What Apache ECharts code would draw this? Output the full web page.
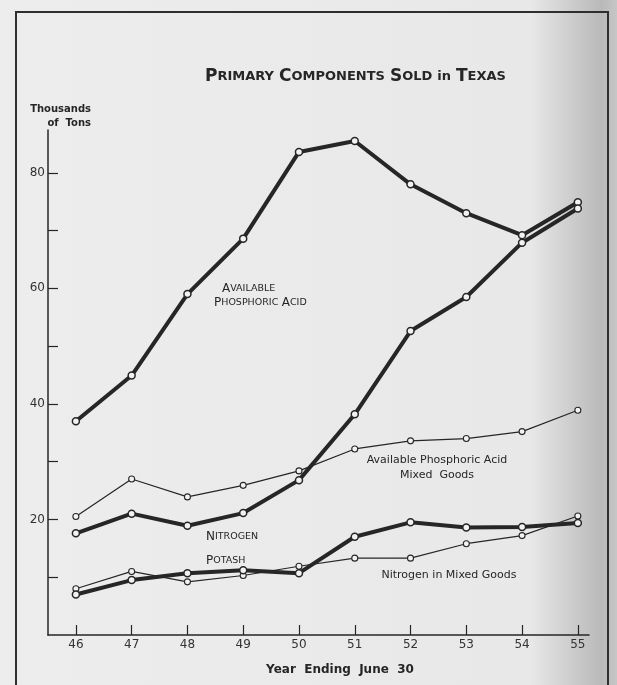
<!DOCTYPE html>
<html>
<head>
<meta charset="utf-8">
<title>Primary Components Sold in Texas</title>
<script src="https://cdn.jsdelivr.net/npm/echarts@6/dist/echarts.min.js"></script>
<style>
  html, body { margin:0; padding:0; }
  #chart { width:617px; height:685px; }
</style>
</head>
<body>
<div id="chart"></div>
<script>
// year ending June 30 (19xx)
const years = [46, 47, 48, 49, 50, 51, 52, 53, 54, 55];
// thousands of tons
const phosphoricAcid = [37.0, 44.9, 59.0, 68.6, 83.6, 85.5, 78.0, 73.0, 69.2, 74.9];
const nitrogen = [17.6, 21.0, 18.9, 21.1, 26.8, 38.2, 52.6, 58.5, 67.9, 73.8];
const potash = [7.0, 9.5, 10.7, 11.2, 10.7, 17.0, 19.5, 18.6, 18.7, 19.4];
const phosphoricMixed = [20.5, 27.0, 23.9, 25.9, 28.4, 32.2, 33.6, 34.0, 35.2, 38.9];
const nitrogenMixed = [8.0, 11.0, 9.2, 10.3, 11.9, 13.3, 13.3, 15.8, 17.2, 20.6];
const yTicks = [10, 20, 30, 40, 50, 60, 70, 80];
const yLabels = [20, 40, 60, 80];

const ink = '#262626';
const font = 'DejaVu Sans';

const chart = echarts.init(document.getElementById('chart'), null, { renderer: 'canvas' });

function pairs(values) {
  return years.map((y, i) => [y, values[i]]);
}

function line(name, values, heavy) {
  return {
    name: name,
    type: 'line',
    data: pairs(values),
    symbol: 'circle',
    symbolSize: heavy ? 7 : 6,
    z: heavy ? 3 : 2,
    lineStyle: { color: ink, width: heavy ? 4 : 1.2 },
    itemStyle: { color: '#f2f2f2', borderColor: ink, borderWidth: heavy ? 1.5 : 1.1 },
    emphasis: { disabled: true },
    animation: false
  };
}

// small caps lettering
const rich = (big, small) => ({
  b: { fontFamily: font, fontSize: big, color: ink },
  s: { fontFamily: font, fontSize: small, color: ink }
});

function label(x, y, text, style) {
  return {
    type: 'text',
    x: x,
    y: y,
    style: Object.assign({ text: text, fill: ink, font: '11px "' + font + '"', textVerticalAlign: 'middle' }, style || {})
  };
}

const option = {
  backgroundColor: new echarts.graphic.LinearGradient(0, 0, 1, 0, [
    { offset: 0, color: '#ededed' },
    { offset: 0.86, color: '#e8e8e8' },
    { offset: 0.975, color: '#b9b9b9' },
    { offset: 1, color: '#c6c6c6' }
  ]),
  title: {
    text: '{b|P}{s|RIMARY} {b|C}{s|OMPONENTS} {b|S}{s|OLD} {s|in} {b|T}{s|EXAS}',
    left: 200,
    top: 63,
    textStyle: { rich: rich(17, 13) }
  },
  grid: { left: 48, right: 28, top: 130, bottom: 50 },
  xAxis: {
    type: 'value',
    min: 45.5,
    max: 55.2,
    axisLine: { lineStyle: { color: ink, width: 1.5 } },
    axisTick: { inside: true, length: 10, customValues: years, lineStyle: { color: ink, width: 1.2 } },
    axisLabel: { customValues: years, margin: 4, color: '#333', fontFamily: font, fontSize: 12 },
    splitLine: { show: false }
  },
  yAxis: {
    type: 'value',
    min: 0,
    max: 87.4,
    axisLine: { show: true, lineStyle: { color: ink, width: 1.5 } },
    axisTick: { show: true, inside: true, length: 10, customValues: yTicks, lineStyle: { color: ink, width: 1.2 } },
    axisLabel: { customValues: yLabels, margin: 3, color: '#333', fontFamily: font, fontSize: 12 },
    splitLine: { show: false }
  },
  series: [
    line('Available Phosphoric Acid Mixed Goods', phosphoricMixed, false),
    line('Nitrogen in Mixed Goods', nitrogenMixed, false),
    line('Available Phosphoric Acid', phosphoricAcid, true),
    line('Nitrogen', nitrogen, true),
    line('Potash', potash, true)
  ],
  graphic: [
    {
      type: 'rect',
      shape: { x: 16, y: 12, width: 592, height: 700 },
      style: { fill: null, stroke: '#2e2e2e', lineWidth: 2 },
      silent: true
    },
    label(91, 109, 'Thousands', { textAlign: 'right', font: 'bold 10px "' + font + '"' }),
    label(91, 123, 'of  Tons', { textAlign: 'right', font: 'bold 10px "' + font + '"' }),
    label(222, 289, '{b|A}{s|VAILABLE}', { rich: rich(12, 9.5) }),
    label(214, 303, '{b|P}{s|HOSPHORIC} {b|A}{s|CID}', { rich: rich(12, 9.5) }),
    label(206, 537, '{b|N}{s|ITROGEN}', { rich: rich(12, 9.5) }),
    label(206, 561, '{b|P}{s|OTASH}', { rich: rich(12, 9.5) }),
    label(437, 460, 'Available Phosphoric Acid', { textAlign: 'center', font: '11px "' + font + '"' }),
    label(437, 475, 'Mixed  Goods', { textAlign: 'center', font: '11px "' + font + '"' }),
    label(449, 575, 'Nitrogen in Mixed Goods', { textAlign: 'center', font: '11px "' + font + '"' }),
    label(340, 670, 'Year  Ending  June  30', { textAlign: 'center', font: 'bold 12px "' + font + '"' })
  ]
};

chart.setOption(option);
</script>
</body>
</html>
